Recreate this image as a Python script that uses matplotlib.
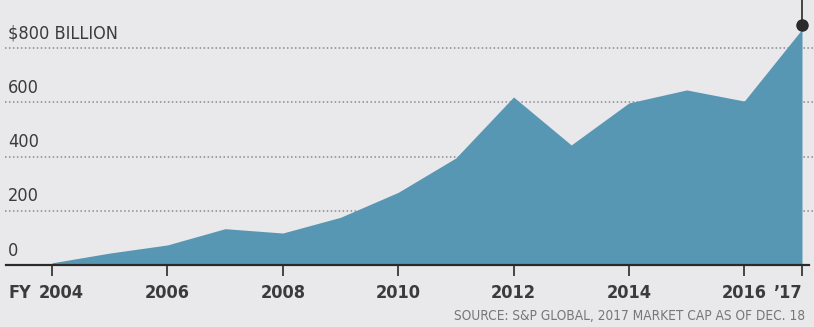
import matplotlib.pyplot as plt
import numpy as np

# market cap by fiscal year, $ billions
years = [2004, 2005, 2006, 2007, 2008, 2009, 2010, 2011, 2012, 2013, 2014, 2015, 2016, 2017]
market_cap = [8, 44, 74, 134, 118, 176, 268, 395, 620, 443, 598, 646, 605, 870]

grid_values = [0, 200, 400, 600, 800]
grid_labels = ["0", "200", "400", "600", "$800 BILLION"]
tick_years = [2004, 2006, 2008, 2010, 2012, 2014, 2016, 2017]
tick_labels = ["2004", "2006", "2008", "2010", "2012", "2014", "2016", "\u201917"]
source = "SOURCE: S&P GLOBAL, 2017 MARKET CAP AS OF DEC. 18"

bg = "#e9e8eb"
fill_col = "#5897b4"
ink = "#3b3b3d"
font = dict(family="DejaVu Sans", stretch="condensed")

W, H = 814, 327
fig = plt.figure(figsize=(W / 100, H / 100), dpi=100, facecolor=bg)
base_px = 265
ax = fig.add_axes([0, (H - base_px) / H, 1, base_px / H])
ax.set_facecolor(bg)

px_year = 750 / 13
ax.set_xlim(2004 - 52 / px_year, 2017 + (W - 802) / px_year)
ax.set_ylim(0, base_px / 0.271)

for v, lab in zip(grid_values, grid_labels):
    if v > 0:
        ax.axhline(v, xmin=0.006, xmax=1, color="#8a8a8e", lw=1.1,
                   ls=(0, (1, 1.6)), zorder=1)
    ax.text(2004 - 44 / px_year, v + 20, lab, fontsize=13, color=ink,
            va="bottom", ha="left", zorder=3, **font)

ax.fill_between(years, market_cap, 0, color=fill_col, lw=0, zorder=2)
ax.plot([years[-1], years[-1]], [market_cap[-1], 2000], color="#2a2a2a",
        lw=1.2, zorder=4)
ax.plot(years[-1], market_cap[-1] + 14, "o", color="#2a2a2a", ms=8, zorder=5)

for s in ["top", "right", "left"]:
    ax.spines[s].set_visible(False)
ax.spines["bottom"].set_color("#2a2a2a")
ax.spines["bottom"].set_linewidth(1.6)
ax.spines["bottom"].set_bounds(2004 - 46 / px_year, 2017 + 7 / px_year)
ax.set_yticks([])
ax.set_xticks(tick_years)
# first label sits beside "FY", drawn separately below
ax.set_xticklabels([""] + tick_labels[1:], fontsize=13, fontweight="bold",
                   color=ink, **font)
ax.get_xticklabels()[-1].set_ha("right")
ax.tick_params(axis="x", direction="out", length=8, width=1.2,
               color="#2a2a2a", pad=6)
label_y = -28 / 0.271
ax.text(2004 - 44 / px_year, label_y, "FY", fontsize=13,
        fontweight="bold", color=ink, va="center", ha="left", **font)
ax.text(2004 + 9 / px_year, label_y, tick_labels[0], fontsize=13,
        fontweight="bold", color=ink, va="center", ha="center", **font)

fig.text(805 / W, 1 - 316 / H, source, fontsize=9.8, color="#77777a",
         ha="right", va="center", **font)

fig.savefig("out.png", dpi=100, facecolor=bg)
